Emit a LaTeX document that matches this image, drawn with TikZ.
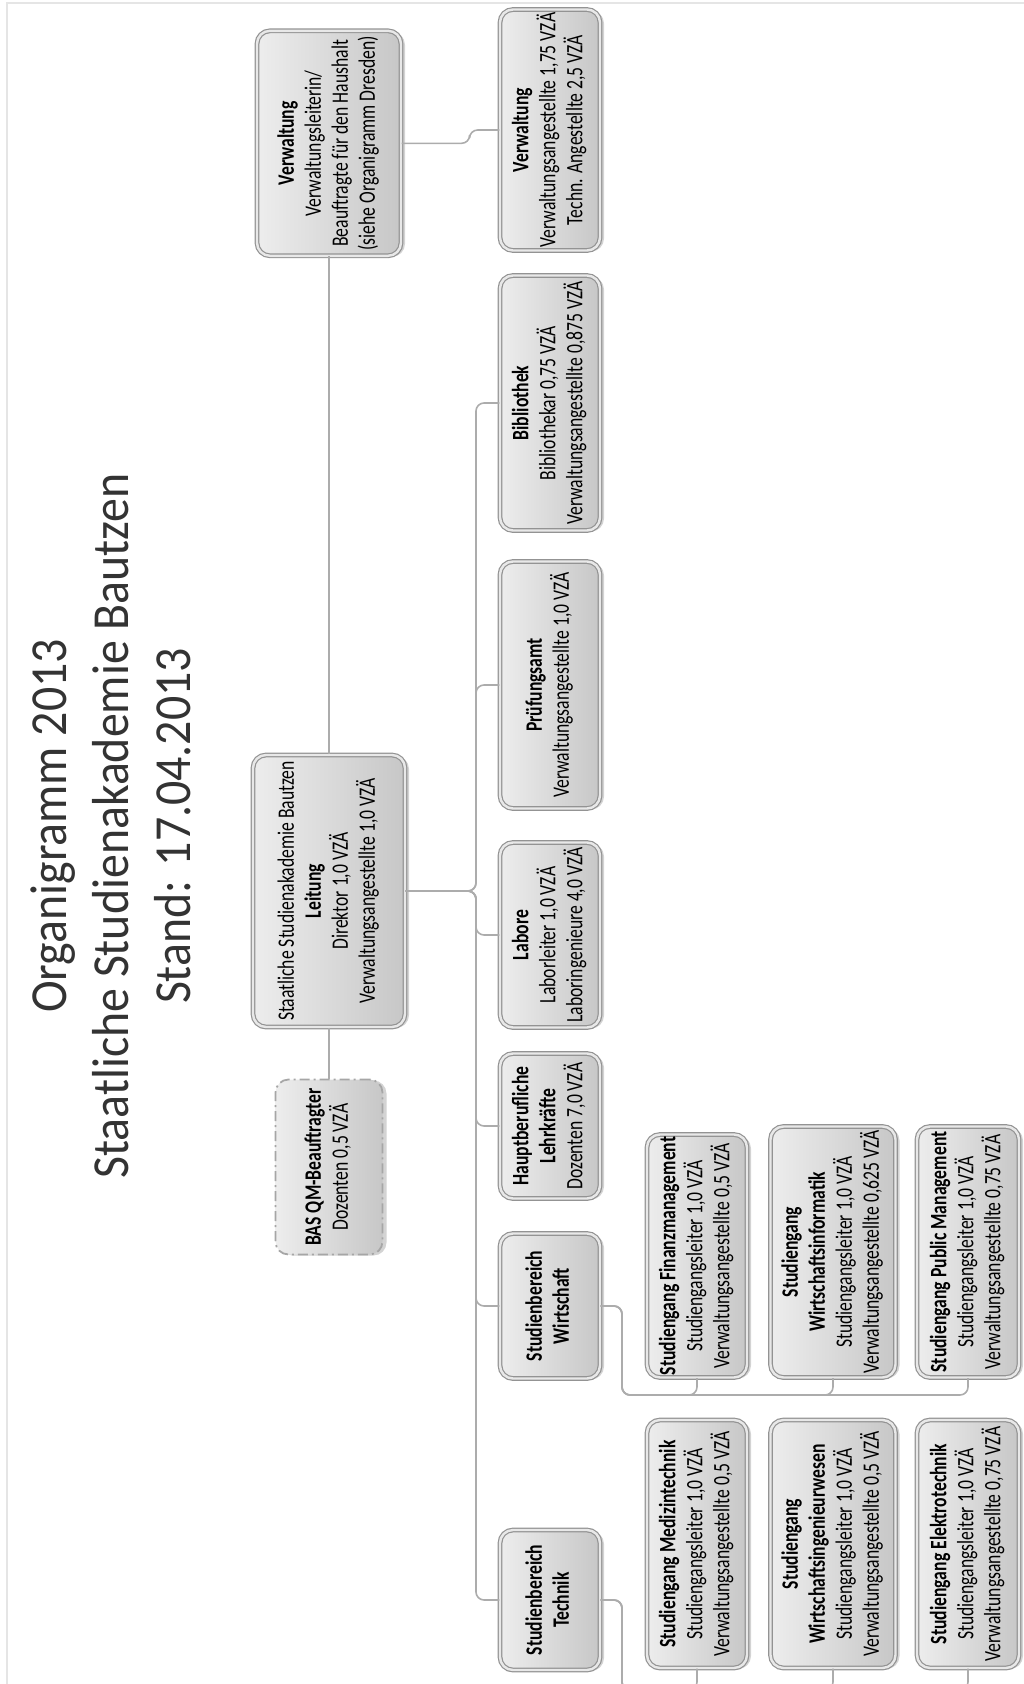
\documentclass[tikz,border=0pt]{standalone}
\usepackage{fontspec}
\setmainfont{Carlito}
\usepackage{graphicx}
\usetikzlibrary{positioning,shadows}

\newcommand{\vtext}[2][0.75]{\rotatebox{90}{\scalebox{#1}[1]{\begin{tabular}{@{}c@{}}#2\end{tabular}}}}

\begin{document}
\begin{tikzpicture}[x=1pt,y=-1pt,
box/.style={draw=gray!85,line width=1.2pt,double=gray!18,double distance=2.4pt,
    rounded corners=13pt,left color=gray!14,right color=gray!44,inner sep=0pt,
    drop shadow={shadow xshift=4pt,shadow yshift=-1pt,opacity=.35,fill=gray},
    text=black,font=\fontsize{23.5}{27}\selectfont},
qmbox/.style={draw=gray!70,line width=1.8pt,dash pattern=on 10pt off 4pt on 2pt off 4pt,
    rounded corners=13pt,left color=gray!14,right color=gray!44,inner sep=0pt,
    drop shadow={shadow xshift=4pt,shadow yshift=-1pt,opacity=.35,fill=gray},
    text=black,font=\fontsize{23.5}{27}\selectfont},
conn/.style={draw=gray!65,line width=1.6pt,rounded corners=8pt}]
\useasboundingbox (0,0) rectangle (1024,1684);
\clip (0,0) rectangle (1024,1684);
\draw [gray!20,line width=1.5pt] (7,1684) -- (7,3) -- (1024,3);
\node (title) [text=black!80,font=\fontsize{52}{62}\selectfont,inner sep=0pt] at (116,826)
    {\vtext[0.92]{Organigramm 2013\\ Staatliche Studienakademie Bautzen\\ Stand: 17.04.2013}};
\node (leitung) [box,minimum width=152,minimum height=272] at (329,891)
    {\vtext{Staatliche Studienakademie Bautzen\\ \textbf{Leitung}\\ Direktor 1,0 VZÄ\\ Verwaltungsangestellte 1,0 VZÄ}};
\node (verw) [box,minimum width=144,minimum height=225,above=498pt of leitung]
    {\vtext{\textbf{Verwaltung}\\ Verwaltungsleiterin/\\ Beauftragte für den Haushalt\\ (siehe Organigramm Dresden)}};
\node (qm) [qmbox,minimum width=107,minimum height=175,below=51pt of leitung]
    {\vtext{\textbf{BAS QM-Beauftragter}\\ Dozenten 0,5 VZÄ}};
\node (verw2) [box,minimum width=100,minimum height=241] at (550,130)
    {\vtext{\textbf{Verwaltung}\\ Verwaltungsangestellte 1,75 VZÄ\\ Techn. Angestellte 2,5 VZÄ}};
\node (bib) [box,minimum width=100,minimum height=255] at (550,403)
    {\vtext{\textbf{Bibliothek}\\ Bibliothekar 0,75 VZÄ\\ Verwaltungsangestellte 0,875 VZÄ}};
\node (pruef) [box,minimum width=100,minimum height=247] at (550,685)
    {\vtext{\textbf{Prüfungsamt}\\ Verwaltungsangestellte 1,0 VZÄ}};
\node (labore) [box,minimum width=100,minimum height=185] at (550,935)
    {\vtext{\textbf{Labore}\\ Laborleiter 1,0 VZÄ\\ Laboringenieure 4,0 VZÄ}};
\node (haupt) [box,minimum width=100,minimum height=145] at (550,1126)
    {\vtext{\textbf{Hauptberufliche}\\ \textbf{Lehrkräfte}\\ Dozenten 7,0 VZÄ}};
\node (wirt) [box,minimum width=100,minimum height=145] at (550,1306)
    {\vtext{\textbf{Studienbereich}\\ \textbf{Wirtschaft}}};
\node (technik) [box,minimum width=100,minimum height=140] at (550,1600)
    {\vtext{\textbf{Studienbereich}\\ \textbf{Technik}}};
\node (finanz) [box,minimum width=100,minimum height=243] at (697,1256)
    {\vtext{\textbf{Studiengang Finanzmanagement}\\ Studiengangsleiter 1,0 VZÄ\\ Verwaltungsangestellte 0,5 VZÄ}};
\node (winf) [box,minimum width=125,minimum height=251] at (833,1252)
    {\vtext{\textbf{Studiengang}\\ \textbf{Wirtschaftsinformatik}\\ Studiengangsleiter 1,0 VZÄ\\ Verwaltungsangestellte 0,625 VZÄ}};
\node (pubm) [box,minimum width=102,minimum height=251] at (968,1252)
    {\vtext{\textbf{Studiengang Public Management}\\ Studiengangsleiter 1,0 VZÄ\\ Verwaltungsangestellte 0,75 VZÄ}};
\node (medt) [box,minimum width=100,minimum height=248] at (697,1544)
    {\vtext{\textbf{Studiengang Medizintechnik}\\ Studiengangsleiter 1,0 VZÄ\\ Verwaltungsangestellte 0,5 VZÄ}};
\node (wing) [box,minimum width=125,minimum height=248] at (833,1544)
    {\vtext{\textbf{Studiengang}\\ \textbf{Wirtschaftsingenieurwesen}\\ Studiengangsleiter 1,0 VZÄ\\ Verwaltungsangestellte 0,5 VZÄ}};
\node (etech) [box,minimum width=102,minimum height=248] at (968,1544)
    {\vtext{\textbf{Studiengang Elektrotechnik}\\ Studiengangsleiter 1,0 VZÄ\\ Verwaltungsangestellte 0,75 VZÄ}};
\coordinate (busA) at (476,891);
\coordinate (busW) at (622,1395);
\coordinate (busT) at (622,1690);
\draw [conn] (leitung.north) -- (verw.south);
\draw [conn] (leitung.south) -- (qm.north);
\draw [conn] (verw.east) -- ++(68,0) |- (verw2.west);
\draw [conn] (leitung.east) -- (busA) |- (bib.west);
\draw [conn] (leitung.east) -- (busA) |- (pruef.west);
\draw [conn] (leitung.east) -- (busA) |- (labore.west);
\draw [conn] (leitung.east) -- (busA) |- (haupt.west);
\draw [conn] (leitung.east) -- (busA) |- (wirt.west);
\draw [conn] (leitung.east) -- (busA) |- (technik.west);
\draw [conn] (wirt.east) -| (busW) -| (finanz.south);
\draw [conn] (wirt.east) -| (busW) -| (winf.south);
\draw [conn] (wirt.east) -| (busW) -| (pubm.south);
\draw [conn] (technik.east) -| (busT) -| (medt.south);
\draw [conn] (technik.east) -| (busT) -| (wing.south);
\draw [conn] (technik.east) -| (busT) -| (etech.south);
\end{tikzpicture}
\end{document}
